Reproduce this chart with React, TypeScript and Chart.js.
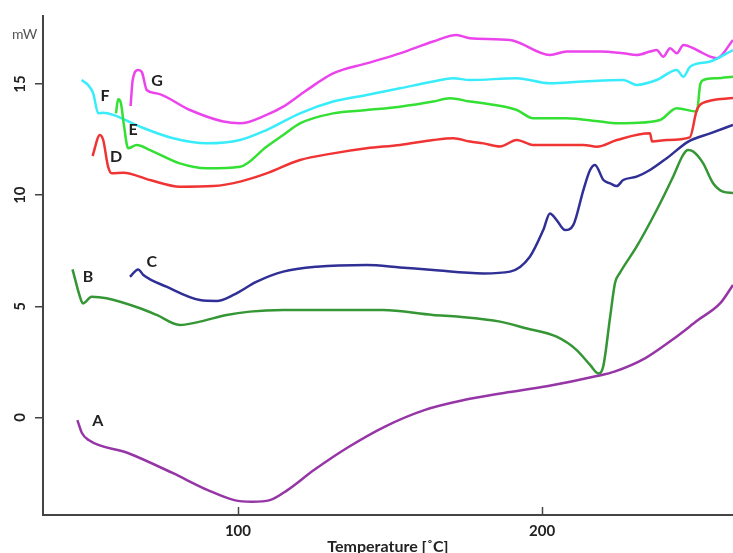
import React, { useEffect, useRef } from "react";
import { Chart, registerables } from "chart.js";

Chart.register(...registerables);

// Temperature (°C) / heat flow (mW)
const A_TEMP = [47.2, 48.7, 50.9, 63.8, 78.5, 90.1, 98.8, 104.6, 110.5, 116.3, 125.0, 136.5, 148.2, 161.3, 174.3, 187.5, 202.0, 218.0, 223.8, 234.0, 242.7, 251.3, 258.7, 262.8];
const A_MW = [-0.12, -0.7, -1.02, -1.6, -2.5, -3.27, -3.72, -3.79, -3.72, -3.27, -2.37, -1.32, -0.42, 0.33, 0.78, 1.1, 1.41, 1.86, 2.06, 2.67, 3.48, 4.38, 5.15, 5.96];

const B_TEMP = [45.6, 48.6, 49.1, 51.9, 56.8, 67.8, 73.3, 80.9, 87.5, 96.3, 103.9, 114.8, 147.7, 164.1, 172.9, 186.2, 194.7, 204.8, 211.4, 215.8, 218.5, 220.1, 222.4, 224.0, 225.6, 231.1, 237.7, 243.1, 246.4, 248.0, 249.7, 252.9, 256.2, 259.5, 262.8];
const B_MW = [6.66, 5.21, 5.13, 5.43, 5.36, 4.91, 4.61, 4.16, 4.31, 4.61, 4.76, 4.83, 4.83, 4.61, 4.53, 4.31, 4.01, 3.63, 3.03, 2.36, 1.98, 2.28, 4.53, 6.05, 6.5, 7.68, 9.33, 10.83, 11.81, 12.03, 11.96, 11.45, 10.55, 10.16, 10.1];

const C_TEMP = [64.5, 67.2, 68.9, 76.5, 87.5, 93.0, 98.5, 106.2, 114.9, 125.9, 142.3, 153.3, 164.2, 180.7, 189.5, 196.0, 200.4, 202.6, 204.8, 207.6, 210.3, 213.6, 215.8, 217.4, 220.2, 222.4, 224.6, 226.7, 231.1, 235.5, 241.0, 248.1, 255.3, 262.8];
const C_MW = [6.33, 6.66, 6.41, 5.88, 5.28, 5.24, 5.51, 6.11, 6.56, 6.78, 6.86, 6.75, 6.63, 6.48, 6.56, 7.23, 8.43, 9.18, 8.88, 8.43, 8.66, 10.23, 11.13, 11.36, 10.68, 10.53, 10.41, 10.68, 10.83, 11.13, 11.66, 12.41, 12.78, 13.16];

const D_TEMP = [52.2, 54.6, 55.7, 57.3, 58.5, 62.3, 71.1, 80.9, 91.9, 100.7, 109.4, 120.4, 131.3, 142.3, 153.3, 164.2, 170.8, 176.3, 180.7, 186.2, 191.7, 197.0, 202.6, 213.6, 218.0, 224.6, 235.5, 236.2, 241.0, 248.6, 250.9, 252.9, 262.8];
const D_MW = [11.76, 12.71, 12.48, 11.28, 10.98, 11.01, 10.68, 10.38, 10.41, 10.61, 10.98, 11.58, 11.88, 12.11, 12.26, 12.48, 12.56, 12.41, 12.33, 12.19, 12.48, 12.26, 12.26, 12.26, 12.18, 12.48, 12.78, 12.41, 12.48, 12.6, 13.83, 14.15, 14.37];

const E_TEMP = [59.9, 60.6, 61.5, 62.5, 63.9, 66.7, 71.1, 80.9, 89.7, 100.7, 109.4, 114.9, 120.4, 131.3, 142.3, 153.3, 164.2, 169.7, 176.3, 180.7, 191.7, 197.1, 208.1, 219.1, 224.6, 229.9, 238.8, 244.3, 250.9, 252.0, 253.1, 257.5, 262.8];
const E_MW = [13.68, 14.31, 14.15, 13.16, 12.11, 12.26, 12.03, 11.43, 11.21, 11.28, 12.18, 12.71, 13.23, 13.68, 13.83, 13.98, 14.21, 14.36, 14.21, 14.13, 13.83, 13.46, 13.46, 13.31, 13.23, 13.25, 13.38, 13.91, 13.76, 14.96, 15.18, 15.26, 15.33];

const F_TEMP = [48.6, 50.7, 52.4, 54.1, 55.7, 59.0, 67.8, 78.7, 89.7, 100.7, 109.4, 120.4, 131.3, 142.3, 153.3, 164.2, 170.8, 176.3, 191.7, 202.6, 213.6, 226.7, 231.1, 237.7, 244.3, 246.5, 248.7, 255.3, 262.8];
const F_MW = [15.18, 14.96, 14.58, 13.68, 13.71, 13.61, 13.08, 12.56, 12.33, 12.48, 12.93, 13.68, 14.21, 14.51, 14.81, 15.11, 15.26, 15.18, 15.26, 15.03, 15.11, 15.18, 14.96, 15.18, 15.63, 15.33, 15.78, 16.01, 16.53];

const G_TEMP = [64.7, 65.4, 67.2, 68.4, 70.0, 73.3, 84.2, 95.2, 100.7, 109.4, 114.9, 120.4, 125.9, 131.3, 142.3, 153.3, 164.2, 171.9, 176.3, 189.5, 202.6, 208.1, 219.1, 226.7, 231.1, 235.5, 237.7, 239.9, 242.1, 244.3, 246.5, 250.9, 255.3, 257.5, 262.8];
const G_MW = [14.01, 15.18, 15.63, 15.54, 14.73, 14.58, 13.83, 13.31, 13.23, 13.61, 13.98, 14.51, 15.03, 15.48, 15.93, 16.38, 16.91, 17.21, 17.06, 16.98, 16.31, 16.46, 16.46, 16.38, 16.31, 16.46, 16.53, 16.23, 16.61, 16.38, 16.76, 16.53, 16.23, 16.16, 16.98];

const SERIES_NAMES = ["A", "B", "C", "D", "E", "F", "G"];
const SERIES_COLORS = ["#9636a6", "#349634", "#2f2f96", "#f03434", "#34e034", "#38ecfa", "#ec44ec"];

// curve label anchor points (temperature, mW)
const LABEL_TEMP = [53.9, 50.7, 71.7, 59.9, 65.5, 56.3, 73.4];
const LABEL_MW = [-0.16, 6.32, 6.99, 11.72, 12.93, 14.46, 15.14];

const X_TICKS = [100, 200];
const Y_TICKS = [0, 5, 10, 15];
const X_MIN = 35.9;
const X_MAX = 262.8;
const Y_MIN = -4.39;
const Y_MAX = 18.06;

const TEMPS = [A_TEMP, B_TEMP, C_TEMP, D_TEMP, E_TEMP, F_TEMP, G_TEMP];
const VALUES = [A_MW, B_MW, C_MW, D_MW, E_MW, F_MW, G_MW];

const FONT = "Lato, 'Open Sans', sans-serif";
const AXIS_COLOR = "#444";

const overlay = {
  id: "overlay",
  afterDraw(chart: any) {
    const { ctx, scales } = chart;
    const xs = scales.x;
    const ys = scales.y;
    ctx.save();
    // inside tick marks on the x axis
    ctx.strokeStyle = AXIS_COLOR;
    ctx.lineWidth = 1.5;
    X_TICKS.forEach((t) => {
      const px = Math.round(xs.getPixelForValue(t)) + 0.5;
      ctx.beginPath();
      ctx.moveTo(px, ys.bottom);
      ctx.lineTo(px, ys.bottom - 8);
      ctx.stroke();
    });
    // rotated y tick labels
    ctx.fillStyle = "#222";
    ctx.font = "bold 15px " + FONT;
    ctx.textAlign = "center";
    ctx.textBaseline = "middle";
    Y_TICKS.forEach((t) => {
      const py = ys.getPixelForValue(t);
      ctx.save();
      ctx.translate(20, py);
      ctx.rotate(-Math.PI / 2);
      ctx.fillText(String(t), 0, 0);
      ctx.restore();
    });
    // unit
    ctx.font = "14px " + FONT;
    ctx.fillStyle = "#555";
    ctx.textAlign = "left";
    ctx.fillText("mW", 12, 34);
    // curve labels
    ctx.font = "bold 16px " + FONT;
    ctx.fillStyle = "#222";
    ctx.textAlign = "center";
    SERIES_NAMES.forEach((n, i) => {
      ctx.fillText(n, xs.getPixelForValue(LABEL_TEMP[i]), ys.getPixelForValue(LABEL_MW[i]));
    });
    ctx.restore();
  },
};

export default function App() {
  const ref = useRef<HTMLCanvasElement | null>(null);
  useEffect(() => {
    document.body.style.margin = "0";
    if (!ref.current) return;
    const datasets = SERIES_NAMES.map((name, i) => ({
      label: name,
      data: TEMPS[i].map((t, j) => ({ x: t, y: VALUES[i][j] })),
      borderColor: SERIES_COLORS[i],
      backgroundColor: SERIES_COLORS[i],
      borderWidth: 2.5,
      pointRadius: 0,
      cubicInterpolationMode: "monotone" as const,
      fill: false,
    }));
    const chart = new Chart(ref.current, {
      type: "line",
      data: { datasets },
      plugins: [overlay],
      options: {
        animation: false,
        responsive: false,
        layout: { padding: { top: 16, right: 0, left: 0, bottom: 0 } },
        plugins: { legend: { display: false }, tooltip: { enabled: false } },
        scales: {
          x: {
            type: "linear",
            min: X_MIN,
            max: X_MAX,
            afterBuildTicks: (s: any) => {
              s.ticks = X_TICKS.map((v) => ({ value: v }));
            },
            afterFit: (s: any) => {
              s.height = 38;
            },
            ticks: {
              font: { family: FONT, size: 15, weight: "bold" },
              color: "#222",
              padding: 7,
              maxRotation: 0,
            },
            grid: { drawOnChartArea: false, drawTicks: false },
            border: { display: true, color: AXIS_COLOR, width: 2 },
            title: {
              display: true,
              text: "Temperature [˚C]",
              font: { family: FONT, size: 16, weight: "bold" },
              color: "#222",
              padding: { top: 0, bottom: -3 },
            },
          },
          y: {
            type: "linear",
            min: Y_MIN,
            max: Y_MAX,
            afterBuildTicks: (s: any) => {
              s.ticks = Y_TICKS.map((v) => ({ value: v }));
            },
            afterFit: (s: any) => {
              s.width = 43;
            },
            ticks: { display: false },
            grid: { drawOnChartArea: false, drawTicks: true, tickLength: 8, color: AXIS_COLOR, lineWidth: 1.5 },
            border: { display: true, color: AXIS_COLOR, width: 2 },
          },
        },
      },
    });
    return () => chart.destroy();
  }, []);
  return (
    <div style={{ width: 733, height: 553 }}>
      <canvas ref={ref} width={733} height={553} />
    </div>
  );
}
